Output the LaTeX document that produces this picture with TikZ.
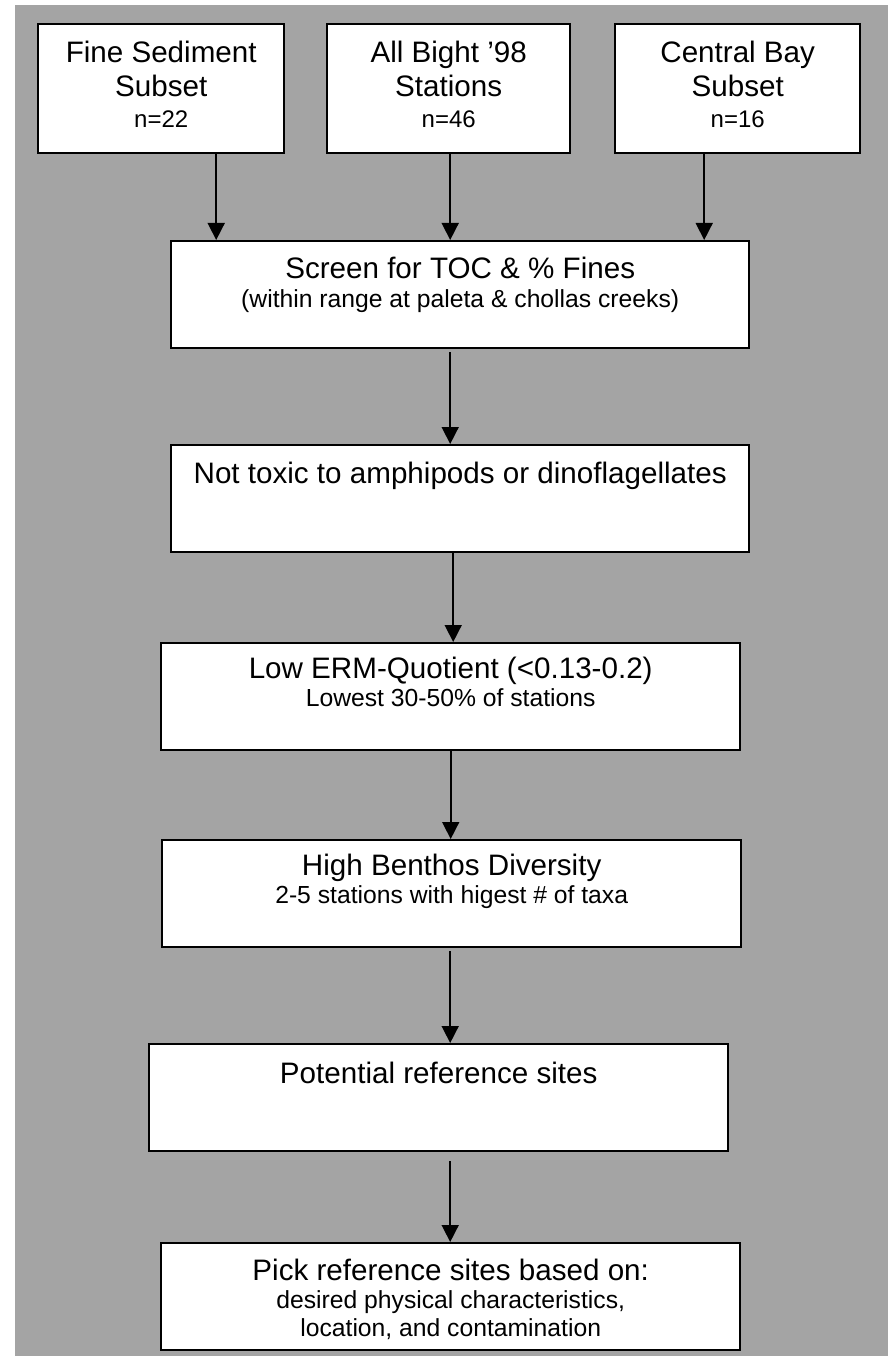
\documentclass[tikz,border=0pt]{standalone}
\usepackage{fontspec}
\setmainfont{Liberation Sans}
\usetikzlibrary{arrows.meta,calc}
\definecolor{bg}{RGB}{164,164,164}
\newcommand{\mainsz}{\fontsize{29.6}{34}\selectfont}
\newcommand{\subsz}{\fontsize{24.7}{29}\selectfont}
\newcommand{\subtight}{\fontsize{24.7}{28}\selectfont}
\newcommand{\tinysz}{\fontsize{24}{31}\selectfont}
\newcommand{\bx}[3]{\parbox[c][#2][t]{#1}{\centering #3}}
\begin{document}
\begin{tikzpicture}[x=1pt,y=-1pt,
  flowbox/.style={draw=black, fill=white, line width=2.4pt, inner sep=0pt, anchor=north west},
  arr/.style={line width=1.6pt, -{Triangle[width=17pt,length=17pt]}}]
\useasboundingbox (0,0) rectangle (888,1356);
\fill[bg] (15,5) rectangle (888,1356);
% top boxes
\node[flowbox] (fine) at (37,23) {\bx{246pt}{129pt}{\mainsz\rule{0pt}{38pt}Fine Sediment\\Subset\par\tinysz n=22\par}};
\node[flowbox] (all) at (326,23) {\bx{243pt}{129pt}{\mainsz\rule{0pt}{38pt}All Bight ’98\\Stations\par\tinysz n=46\par}};
\node[flowbox] (central) at (614,23) {\bx{245pt}{129pt}{\mainsz\rule{0pt}{38pt}Central Bay\\Subset\par\tinysz n=16\par}};
% chain
\node[flowbox] (screen) at (170,240) {\bx{578pt}{107pt}{\mainsz\rule{0pt}{37pt}Screen for TOC \& \% Fines\par\subsz (within range at paleta \& chollas creeks)\par}};
\node[flowbox] (toxic) at (170,444) {\bx{578pt}{107pt}{\mainsz\rule{0pt}{38pt}Not toxic to amphipods or dinoflagellates\par}};
\node[flowbox] (erm) at (160,642) {\bx{579pt}{107pt}{\mainsz\rule{0pt}{35pt}Low ERM-Quotient (<0.13-0.2)\par\subtight Lowest 30-50\% of stations\par}};
\node[flowbox] (benthos) at (161,839) {\bx{579pt}{107pt}{\mainsz\rule{0pt}{35pt}High Benthos Diversity\par\subtight 2-5 stations with higest \# of taxa\par}};
\node[flowbox] (potential) at (148,1043) {\bx{579pt}{107pt}{\mainsz\rule{0pt}{39pt}Potential reference sites\par}};
\node[flowbox] (pick) at (160,1242) {\bx{579pt}{107pt}{\mainsz\rule{0pt}{37pt}Pick reference sites based on:\par\subtight desired physical characteristics,\\location, and contamination\par}};
% arrow coordinates
\coordinate (a1) at ($(fine.south)+(55,0)$);
\coordinate (a2) at ($(all.south)+(1.5,0)$);
\coordinate (a3) at ($(central.south)+(-33.5,-2)$);
\coordinate (a4) at ($(screen.south)+(-10,3)$);
\coordinate (a5) at ($(toxic.south)+(-7,0)$);
\coordinate (a6) at ($(erm.south)+(0,0)$);
\coordinate (a7) at ($(benthos.south)+(-1.5,3)$);
\coordinate (a8) at ($(potential.south)+(11.5,9)$);
\draw[arr] (a1) -- (a1 |- screen.north);
\draw[arr] (a2) -- (a2 |- screen.north);
\draw[arr] (a3) -- (a3 |- screen.north);
\draw[arr] (a4) -- (a4 |- toxic.north);
\draw[arr] (a5) -- (a5 |- erm.north);
\draw[arr] (a6) -- (a6 |- benthos.north);
\draw[arr] (a7) -- (a7 |- potential.north);
\draw[arr] (a8) -- (a8 |- pick.north);
\end{tikzpicture}
\end{document}
